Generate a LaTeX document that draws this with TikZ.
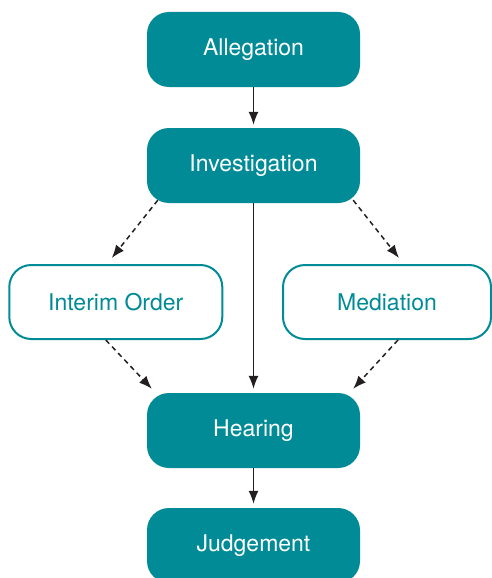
\documentclass[tikz,border=0pt]{standalone}
\usepackage{fontspec}
\setmainfont{TeX Gyre Heros}
\usetikzlibrary{arrows.meta}
\definecolor{caseteal}{HTML}{008B96}
\definecolor{arrowink}{HTML}{231F20}

\begin{document}
\begin{tikzpicture}[
			x=1pt, y=-1pt,
			every node/.style={font=\fontsize{23}{27}\selectfont},
			stage/.style={fill=caseteal, text=white, rounded corners=22pt, minimum width=213pt, minimum height=75pt, inner sep=0pt},
			option/.style={draw=caseteal, line width=2pt, fill=white, text=caseteal, rounded corners=22pt, minimum height=74pt, inner sep=0pt},
			link/.style={draw=arrowink, line width=1.5pt, -{Latex[length=13pt,width=10pt]}},
			maybe/.style={link, dash pattern=on 5pt off 4pt}
			]
			\clip (0,0) rectangle (492,578);
			\useasboundingbox (0,0) rectangle (492,578);
			
			\node[stage] (al) at (253.5,49.5) {Allegation};
			\node[stage] (inv) at (253.5,165.5) {Investigation};
			\node[option, minimum width=213pt] (io) at (115.8,302) {Interim Order};
			\node[option, minimum width=208pt] (med) at (387,302) {Mediation};
			\node[stage] (hear) at (253.5,430.5) {Hearing};
			\node[stage] (jud) at (253.5,545.5) {Judgement};
			
			\draw[link, shorten >=3pt] (al) -- (inv);
			\draw[link, shorten >=4pt] (inv) -- (hear);
			\draw[link, shorten >=4pt] (hear) -- (jud);
			
			\draw[maybe] ([xshift=11pt,yshift=3pt]inv.south west) -- ([xshift=-4pt,yshift=6pt]io.north);
			\draw[maybe] ([xshift=-7pt,yshift=3pt]inv.south east) -- ([xshift=12pt,yshift=6pt]med.north);
			\draw[maybe] ([xshift=-10pt]io.south) -- ([xshift=5pt,yshift=4pt]hear.north west);
			\draw[maybe] ([xshift=11pt]med.south) -- ([xshift=-7pt,yshift=4pt]hear.north east);
		\end{tikzpicture}
\end{document}
